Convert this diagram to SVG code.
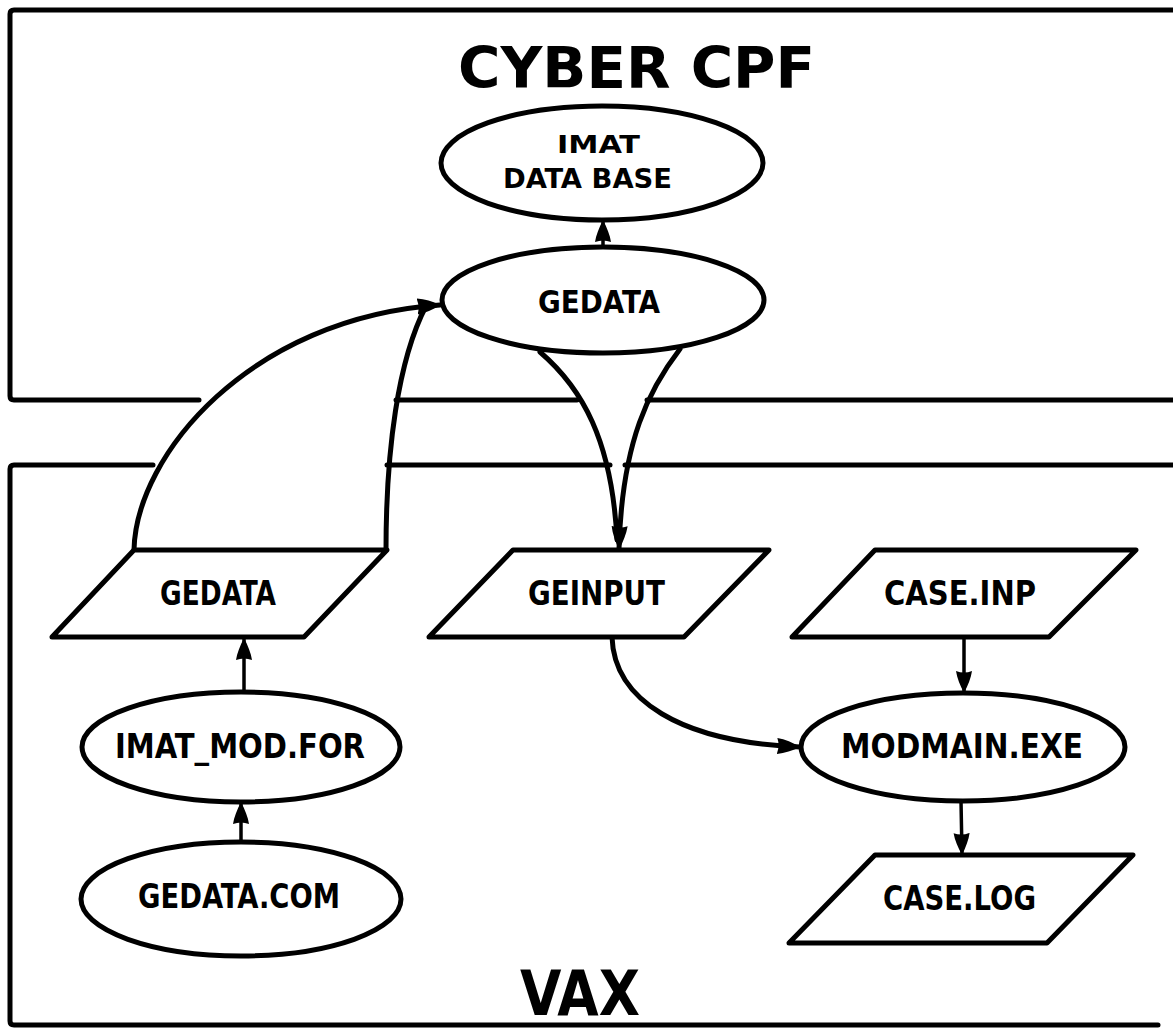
<svg xmlns="http://www.w3.org/2000/svg" width="1173" height="1031" viewBox="0 0 1173 1031">
<defs>
<style>
.ln{fill:none;stroke:#000;stroke-width:5;stroke-linecap:round;stroke-linejoin:round}
.st{fill:none;stroke:#000;stroke-width:3.5;stroke-linecap:round}
.sh{fill:#fff;stroke:#000;stroke-width:5;stroke-linejoin:round}
.tx{font-family:"DejaVu Sans","Liberation Sans",sans-serif;font-weight:bold;font-stretch:condensed;fill:#000}
</style>
<marker id="ah" viewBox="0 0 22 18" refX="21" refY="9" markerWidth="22" markerHeight="18" markerUnits="userSpaceOnUse" orient="auto">
<path d="M0,1 C7,2 14,5 22,9 C14,13 7,16 0,17 Q3,9 0,1 Z" fill="#000"/>
</marker>
<marker id="ahc" viewBox="0 0 24 18" refX="23" refY="9" markerWidth="24" markerHeight="18" markerUnits="userSpaceOnUse" orient="auto">
<path d="M0,1 C8,2 15,5 24,9 C15,13 8,16 0,17 Q3,9 0,1 Z" fill="#000"/>
</marker>
</defs>
<rect width="1173" height="1031" fill="#fff"/>

<g id="frames">
<path class="ln" d="M1173,10 L14,10 Q10,10 10,14 L10,396 Q10,400 14,400 L199,400"/>
<path class="ln" d="M396,400 L577,400"/>
<path class="ln" d="M647,400 L1173,400"/>
<path class="ln" d="M153,465 L14,465 Q10,465 10,469 L10,1021 Q10,1025 14,1025 L1158,1025"/>
<path class="ln" d="M387,465 L610,465"/>
<path class="ln" d="M625,465 L1173,465"/>
<text class="tx" x="458" y="88" font-size="57" textLength="357" lengthAdjust="spacingAndGlyphs">CYBER  CPF</text>
<text class="tx" x="520" y="1015" font-size="62" textLength="120" lengthAdjust="spacingAndGlyphs">VAX</text>
</g>

<g id="connectors">
<path class="ln" d="M134,550 C136,455 250,318 440,305" marker-end="url(#ahc)"/>
<path class="ln" d="M386,550 C386,450 398,360 426,306"/>
<path class="ln" d="M540,352 C582,388 612,440 617,540"/>
<path class="ln" d="M680,349 C650,388 622,440 619,549" marker-end="url(#ahc)"/>
<path class="ln" d="M612,637 C614,700 680,742 800,747" marker-end="url(#ahc)"/>
<path class="st" d="M603,248 L603,221" marker-end="url(#ah)"/>
<path class="st" d="M244,692 L244,639" marker-end="url(#ah)"/>
<path class="st" d="M241,842 L241,803" marker-end="url(#ah)"/>
<path class="st" d="M964,637 L964,692" marker-end="url(#ah)"/>
<path class="st" d="M961,801 L962,854" marker-end="url(#ah)"/>
</g>

<g id="imat-db">
<ellipse class="sh" cx="602" cy="163" rx="161" ry="57"/>
<text class="tx" x="557" y="153" font-size="25" textLength="83" lengthAdjust="spacingAndGlyphs">IMAT</text>
<text class="tx" x="503" y="188" font-size="27" textLength="169" lengthAdjust="spacingAndGlyphs">DATA BASE</text>
</g>

<g id="gedata-cpf">
<ellipse class="sh" cx="603" cy="300" rx="161" ry="53"/>
<text class="tx" x="538" y="313" font-size="32" textLength="122" lengthAdjust="spacingAndGlyphs">GEDATA</text>
</g>

<g id="gedata-file">
<polygon class="sh" points="134,550 387,550 304,637 52,637"/>
<text class="tx" x="160" y="605" font-size="33" textLength="116" lengthAdjust="spacingAndGlyphs">GEDATA</text>
</g>

<g id="geinput">
<polygon class="sh" points="513,550 769,550 684,637 429,637"/>
<text class="tx" x="528" y="605" font-size="33" textLength="137" lengthAdjust="spacingAndGlyphs">GEINPUT</text>
</g>

<g id="case-inp">
<polygon class="sh" points="875,550 1136,550 1049,637 792,637"/>
<text class="tx" x="884" y="605" font-size="33" textLength="152" lengthAdjust="spacingAndGlyphs">CASE.INP</text>
</g>

<g id="imat-mod">
<ellipse class="sh" cx="241" cy="747" rx="159" ry="55"/>
<text class="tx" x="115" y="758" font-size="33" textLength="250" lengthAdjust="spacingAndGlyphs">IMAT_MOD.FOR</text>
</g>

<g id="modmain">
<ellipse class="sh" cx="963" cy="747" rx="162" ry="54"/>
<text class="tx" x="841" y="758" font-size="33" textLength="242" lengthAdjust="spacingAndGlyphs">MODMAIN.EXE</text>
</g>

<g id="gedata-com">
<ellipse class="sh" cx="241" cy="899" rx="160" ry="57"/>
<text class="tx" x="138" y="908" font-size="33" textLength="202" lengthAdjust="spacingAndGlyphs">GEDATA.COM</text>
</g>

<g id="case-log">
<polygon class="sh" points="875,855 1133,855 1047,943 789,943"/>
<text class="tx" x="883" y="910" font-size="33" textLength="153" lengthAdjust="spacingAndGlyphs">CASE.LOG</text>
</g>
</svg>
